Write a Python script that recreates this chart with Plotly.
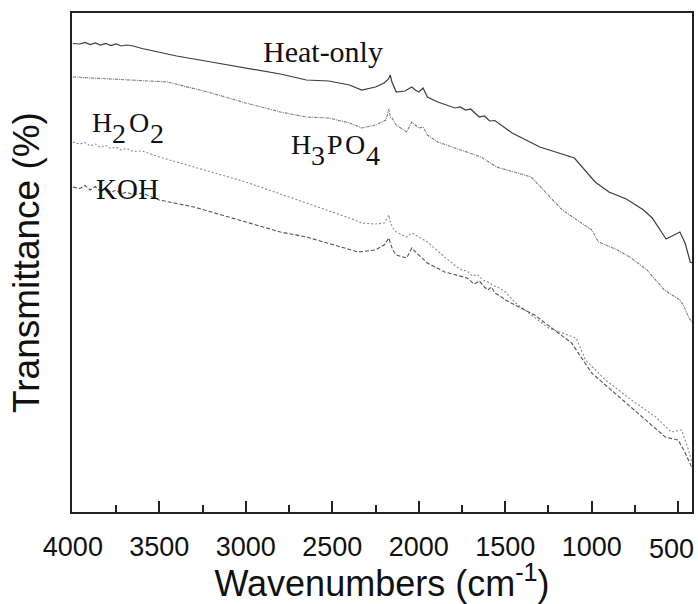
import plotly.graph_objects as go

# ---- data (wavenumber cm-1, transmittance arbitrary %) ----
wn_heat = [4000, 3960, 3930, 3900, 3870, 3840, 3810, 3780, 3750, 3720,
           3690, 3650, 3600, 3500, 3400, 3200, 3000, 2800, 2650, 2520,
           2400, 2330, 2250, 2200, 2175, 2165, 2155, 2130, 2080, 2040,
           2020, 2000, 1975, 1950, 1890, 1820, 1790, 1760, 1730, 1700,
           1670, 1650, 1620, 1590, 1560, 1500, 1460, 1300, 1150, 1100,
           980, 900, 800, 700, 650, 570, 490, 460, 430, 420]
t_heat = [93.7, 93.6, 93.9, 93.5, 93.8, 93.4, 93.7, 93.3, 93.6, 93.2,
          93.4, 93.2, 92.7, 91.9, 91.2, 90.0, 88.8, 87.6, 86.4, 86.2,
          85.4, 84.4, 85.0, 85.8, 86.6, 87.4, 86.0, 84.0, 84.2, 85.0,
          84.4, 84.0, 84.8, 83.0, 82.0, 81.2, 80.8, 81.0, 80.4, 80.6,
          79.6, 79.0, 79.2, 78.2, 78.3, 76.8, 75.8, 73.0, 71.4, 70.8,
          66.0, 64.0, 62.6, 60.4, 58.8, 54.6, 56.0, 53.8, 50.0, 49.8]

wn_h3po4 = [4000, 3900, 3800, 3700, 3600, 3450, 3200, 3000, 2800, 2650,
            2520, 2400, 2330, 2250, 2190, 2172, 2165, 2155, 2130, 2070,
            2040, 2000, 1975, 1950, 1890, 1700, 1640, 1550, 1350, 1170,
            1000, 960, 850, 780, 680, 580, 490, 470, 440, 420]
t_h3po4 = [87.0, 86.8, 86.7, 86.5, 86.2, 86.0, 83.8, 81.8, 80.0, 79.0,
           78.8, 77.8, 76.8, 77.4, 78.4, 80.6, 79.0, 78.8, 77.4, 76.0,
           78.0, 76.8, 77.0, 75.4, 74.0, 71.8, 71.0, 69.0, 67.0, 60.4,
           56.4, 54.0, 52.4, 51.0, 48.4, 44.4, 42.4, 41.4, 39.0, 38.0]

wn_h2o2 = [4000, 3960, 3930, 3900, 3870, 3840, 3810, 3780, 3750, 3720,
           3690, 3650, 3600, 3500, 3300, 3000, 2800, 2650, 2400, 2330,
           2250, 2200, 2172, 2165, 2150, 2130, 2070, 2040, 2000, 1950,
           1850, 1780, 1750, 1720, 1690, 1660, 1630, 1600, 1570, 1540,
           1500, 1440, 1250, 1090, 1036, 920, 770, 630, 540, 480,
           440, 420]
t_h2o2 = [74.0, 73.6, 73.9, 73.2, 73.6, 72.9, 73.3, 72.7, 73.0, 72.4,
          72.7, 72.1, 72.2, 71.0, 69.0, 66.0, 63.6, 61.8, 58.8, 57.8,
          57.6, 57.8, 59.4, 58.0, 56.8, 56.0, 55.0, 55.8, 55.0, 54.0,
          51.0, 49.0, 48.4, 48.2, 47.2, 47.5, 46.4, 46.0, 45.3, 44.9,
          44.0, 41.8, 36.8, 34.8, 30.4, 26.4, 22.4, 19.0, 16.0, 16.4,
          12.4, 9.8]

wn_koh = [4000, 3960, 3930, 3900, 3870, 3840, 3810, 3780, 3750, 3720,
          3690, 3650, 3600, 3500, 3300, 3000, 2800, 2650, 2400, 2350,
          2250, 2200, 2172, 2165, 2150, 2130, 2070, 2040, 2000, 1950,
          1850, 1720, 1680, 1650, 1620, 1600, 1580, 1560, 1530, 1500,
          1330, 1116, 1000, 771, 575, 500, 459, 420]
t_koh = [65.0, 64.7, 65.3, 64.4, 65.1, 64.1, 64.8, 63.9, 64.4, 63.6,
         64.0, 63.4, 63.8, 62.4, 61.0, 58.0, 56.0, 55.0, 52.4, 52.0,
         52.4, 53.4, 54.8, 53.8, 52.4, 51.4, 50.8, 52.8, 51.4, 49.8,
         48.0, 46.8, 45.6, 46.2, 45.0, 44.4, 45.0, 43.8, 43.2, 42.4,
         39.4, 33.8, 27.8, 21.0, 15.0, 14.4, 11.8, 8.8]

x_ticks = [4000, 3500, 3000, 2500, 2000, 1500, 1000]
x_minor = [3750, 3250, 2750, 2250, 1750, 1250, 750]

# label pieces: (text, x offset px, y offset px) relative to each label's anchor
label_pieces = [
    [("Heat-only", 0, 0)],
    [("H", 0, 0), ("3", 20, -11), ("P", 36, 0), ("O", 54, 0), ("4", 75, -11)],
    [("H", 0, 0), ("2", 20, -11), ("O", 37, 0), ("2", 58, -11)],
    [("KOH", 0, 0)],
]
label_x = [2905, 2745, 3897, 3873]
label_y = [92.2, 73.6, 78.0, 64.6]
label_size = [30, 28, 28, 29]

fig = go.Figure()
fig.add_trace(go.Scatter(x=wn_heat, y=t_heat, mode="lines",
                         line=dict(color="#3c3c3c", width=1.2)))
fig.add_trace(go.Scatter(x=wn_h3po4, y=t_h3po4, mode="lines",
                         line=dict(color="#7a7a7a", width=1.1, dash="3px,1px,1px,1px")))
fig.add_trace(go.Scatter(x=wn_h2o2, y=t_h2o2, mode="lines",
                         line=dict(color="#8a8a8a", width=1.1, dash="2px,2px")))
fig.add_trace(go.Scatter(x=wn_koh, y=t_koh, mode="lines",
                         line=dict(color="#555555", width=1.1, dash="4px,2px")))

serif = "Liberation Serif, Times New Roman, serif"
for pieces, lx, ly, fs in zip(label_pieces, label_x, label_y, label_size):
    for txt, dx, dy in pieces:
        fig.add_annotation(x=lx, y=ly, xref="x", yref="y", text=txt, showarrow=False,
                           xanchor="left", yanchor="middle", xshift=dx, yshift=dy,
                           borderpad=0,
                           font=dict(family=serif, size=fs, color="#111"))

# last tick label sits slightly left of its tick in the reference
fig.add_annotation(x=500, y=0, xref="x", yref="paper", text="500", showarrow=False,
                   xanchor="center", yanchor="top", xshift=-7, yshift=-20,
                   font=dict(family="Liberation Sans, Arial, sans-serif", size=27, color="#111"))

fig.update_layout(
    width=698, height=604,
    margin=dict(l=72, r=4, t=13, b=92),
    paper_bgcolor="white", plot_bgcolor="white",
    showlegend=False,
    font=dict(family="Liberation Sans, Arial, sans-serif", color="#111"),
)
fig.update_xaxes(
    range=[4005, 420], tickvals=x_ticks + [500], ticktext=[str(v) for v in x_ticks] + [""],
    ticks="inside", ticklen=11, tickwidth=1.5, tickcolor="#222",
    minor=dict(ticks="inside", ticklen=7, tickwidth=1.5, tickcolor="#222",
               tickvals=x_minor),
    showline=True, linecolor="#222", linewidth=1.5, mirror=True,
    showgrid=False, zeroline=False,
    tickfont=dict(size=27), ticklabelstandoff=10,
    title=dict(text="Wavenumbers (cm<sup>-1</sup>)", font=dict(size=36), standoff=10),
)
fig.update_yaxes(
    range=[0, 99.8], showticklabels=False, ticks="",
    showline=True, linecolor="#222", linewidth=1.5, mirror=True,
    showgrid=False, zeroline=False,
    title=dict(text="Transmittance (%)", font=dict(size=37), standoff=19),
)

fig.write_html("out.html")
